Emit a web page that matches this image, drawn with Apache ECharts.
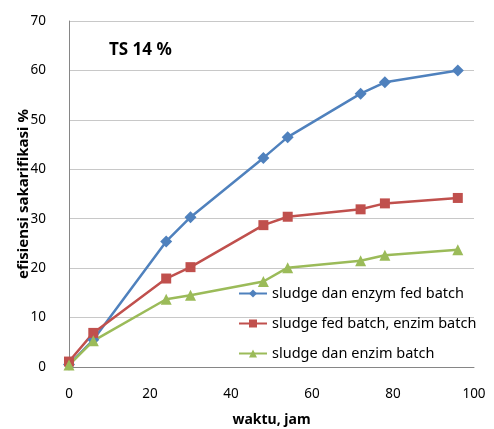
<!DOCTYPE html>
<html>
<head>
<meta charset="utf-8">
<script src="https://cdn.jsdelivr.net/npm/echarts@6/dist/echarts.min.js"></script>
<style>
  html, body { margin: 0; padding: 0; background: #fff; }
  #chart { width: 494px; height: 429px; }
</style>
</head>
<body>
<div id="chart"></div>
<script>
// Sampling times (hours)
const waktu = [0, 6, 24, 30, 48, 54, 72, 78, 96];
// Saccharification efficiency (%) per scheme
const enzymFedBatch = [0.5, 5.5, 25.4, 30.3, 42.3, 46.5, 55.3, 57.6, 60.0];
const sludgeFedEnzimBatch = [1.1, 6.9, 17.9, 20.2, 28.7, 30.4, 31.9, 33.1, 34.2];
const enzimBatch = [0.4, 5.3, 13.7, 14.5, 17.3, 20.1, 21.5, 22.6, 23.7];

const seriesNames = [
  'sludge dan enzym fed batch',
  'sludge fed batch, enzim batch',
  'sludge dan enzim batch'
];
const xTicks = [0, 20, 40, 60, 80, 100];
const yTicks = [0, 10, 20, 30, 40, 50, 60, 70];

const FONT = 'Noto Sans';
const pair = (xs, ys) => xs.map((x, i) => [x, ys[i]]);

const chart = echarts.init(document.getElementById('chart'), null, { renderer: 'canvas' });

const mk = (name, data, color, symbol, size) => ({
  name, type: 'line', data,
  symbol, symbolSize: size,
  lineStyle: { color, width: 2.5 },
  itemStyle: { color },
  animation: false
});

chart.setOption({
  backgroundColor: '#fff',
  textStyle: { fontFamily: FONT },
  title: {
    text: 'TS 14 %',
    left: 104, top: 37,
    textStyle: { fontFamily: FONT, fontSize: 17, fontWeight: 'bold', color: '#000' }
  },
  grid: { left: 69, right: 20, top: 21, bottom: 62, outerBoundsMode: 'none' },
  legend: {
    orient: 'vertical',
    left: 238, top: 286, padding: 0,
    itemWidth: 28, itemHeight: 10, itemGap: 15,
    textStyle: { fontFamily: FONT, fontSize: 14.5, color: '#000' },
    data: seriesNames
  },
  xAxis: {
    type: 'value',
    min: xTicks[0], max: xTicks[xTicks.length - 1], interval: 20,
    name: 'waktu, jam', nameLocation: 'middle', nameGap: 46,
    nameMoveOverlap: false,
    nameTextStyle: { fontFamily: FONT, fontSize: 14, fontWeight: 'bold', color: '#000' },
    axisLine: { lineStyle: { color: '#868686' } },
    axisTick: { show: false },
    axisLabel: { fontFamily: FONT, fontSize: 13.5, color: '#000', margin: 20 },
    splitLine: { show: false }
  },
  yAxis: {
    type: 'value',
    min: yTicks[0], max: yTicks[yTicks.length - 1], interval: 10,
    name: 'efisiensi sakarifikasi %', nameLocation: 'middle', nameGap: 38, nameRotate: 90,
    nameMoveOverlap: false,
    nameTextStyle: { fontFamily: FONT, fontSize: 15, fontWeight: 'bold', color: '#000' },
    axisLine: { show: true, lineStyle: { color: '#868686' } },
    axisTick: { show: false },
    axisLabel: { fontFamily: FONT, fontSize: 13.5, color: '#000', margin: 23 },
    splitLine: { lineStyle: { color: '#c8c8c8' } }
  },
  series: [
    mk(seriesNames[0], pair(waktu, enzymFedBatch), '#4F81BD', 'diamond', 12),
    mk(seriesNames[1], pair(waktu, sludgeFedEnzimBatch), '#C0504D', 'rect', 10),
    mk(seriesNames[2], pair(waktu, enzimBatch), '#9BBB59', 'triangle', 11)
  ]
});
</script>
</body>
</html>
